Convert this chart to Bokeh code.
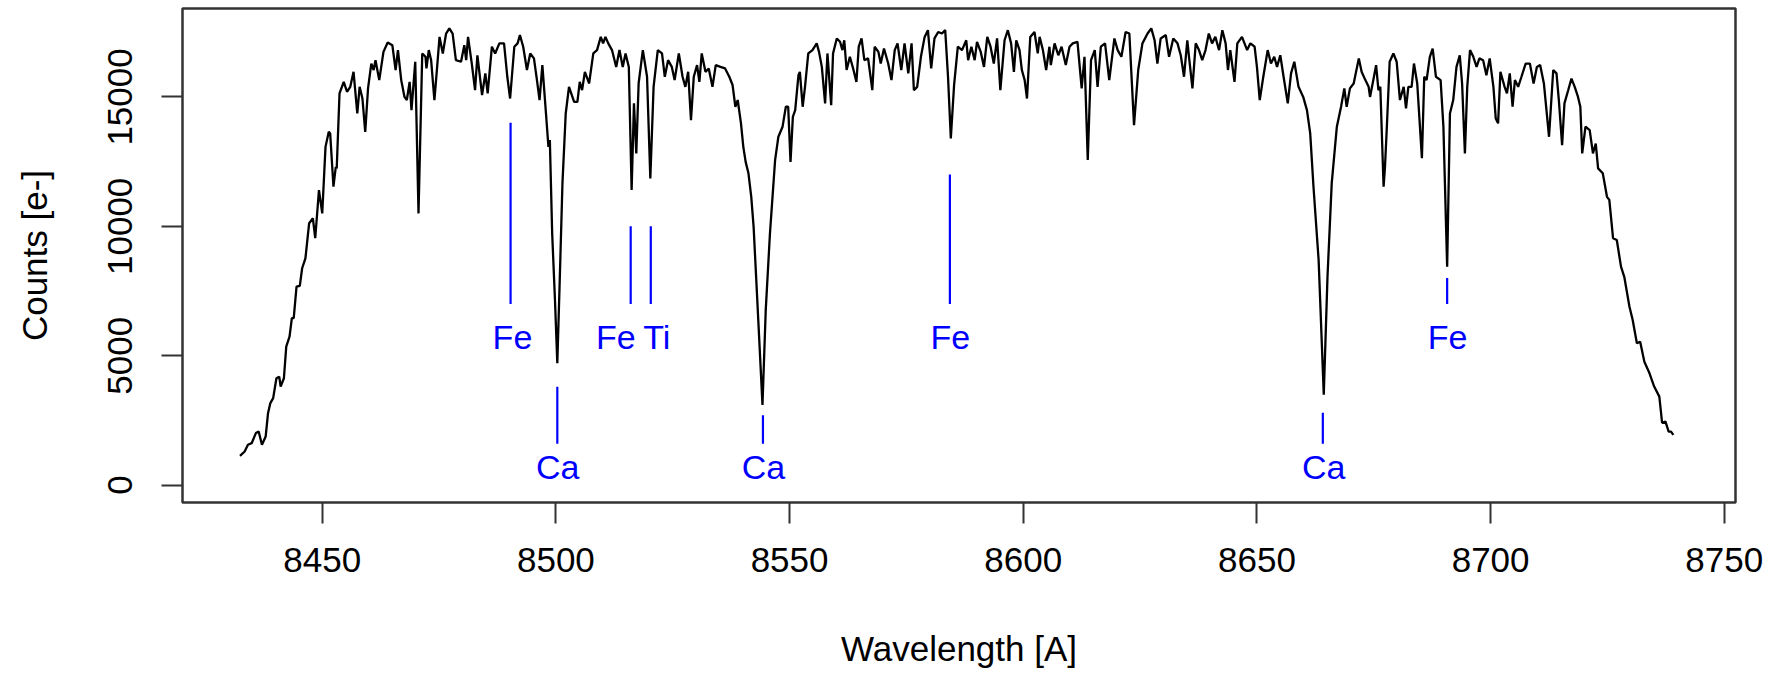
from bokeh.plotting import figure
from bokeh.models import FixedTicker, Range1d
from bokeh.core.properties import value
from bokeh.embed import file_html
from bokeh.resources import INLINE

# ---- spectrum ----
wavelength = [
    8432.4, 8433.4, 8434.1, 8434.9, 8435.8, 8436.4, 8437.1, 8437.9, 8438.4, 8438.9,
    8439.5, 8440.2, 8440.8, 8441.1, 8441.8, 8442.3, 8443.0, 8443.5, 8443.9, 8444.5,
    8445.2, 8445.7, 8446.4, 8447.2, 8448.0, 8448.5, 8449.3, 8450.0, 8450.7, 8451.4,
    8451.7, 8452.4, 8452.9, 8453.1, 8453.7, 8454.6, 8455.3, 8456.0, 8456.7, 8457.5,
    8458.0, 8458.6, 8459.2, 8459.8, 8460.5, 8461.0, 8461.4, 8462.2, 8463.1, 8464.0,
    8465.0, 8465.7, 8466.2, 8466.9, 8467.6, 8468.1, 8468.7, 8469.1, 8469.9, 8470.6,
    8471.4, 8472.1, 8472.3, 8472.8, 8473.3, 8474.0, 8474.5, 8475.1, 8475.8, 8476.5,
    8477.2, 8477.9, 8478.6, 8479.7, 8480.4, 8480.8, 8481.2, 8482.0, 8482.7, 8483.2,
    8484.2, 8484.9, 8485.4, 8486.3, 8487.0, 8487.9, 8488.9, 8489.6, 8490.2, 8491.1,
    8491.8, 8492.3, 8493.0, 8493.8, 8494.5, 8495.3, 8495.9, 8496.5, 8497.1, 8497.9,
    8498.4, 8498.7, 8499.2, 8499.8, 8500.3, 8500.8, 8501.4, 8502.1, 8502.8, 8503.9,
    8504.6, 8505.1, 8505.6, 8506.2, 8507.1, 8508.0, 8508.8, 8509.6, 8510.1, 8510.6,
    8511.2, 8512.0, 8512.9, 8513.6, 8514.3, 8514.9, 8515.6, 8516.2, 8516.7, 8517.2,
    8517.7, 8518.6, 8519.5, 8520.2, 8520.9, 8521.8, 8522.7, 8523.3, 8524.0, 8524.8,
    8525.4, 8526.3, 8527.1, 8527.7, 8528.3, 8528.9, 8529.5, 8530.2, 8530.7, 8531.2,
    8532.0, 8532.7, 8533.5, 8534.2, 8535.2, 8536.2, 8537.1, 8537.8, 8538.4, 8538.9,
    8539.6, 8540.1, 8540.6, 8541.2, 8541.8, 8542.3, 8542.8, 8543.3,
    8544.2, 8544.9, 8545.8, 8546.9, 8547.6, 8548.5, 8549.2, 8549.7, 8550.2, 8550.7,
    8551.2, 8551.9, 8552.2, 8552.8, 8553.3, 8554.0, 8554.9, 8555.8, 8556.3, 8556.9,
    8557.6, 8558.1, 8558.9, 8559.3, 8560.1, 8560.8, 8561.3, 8561.7, 8562.2, 8562.9,
    8563.6, 8564.3, 8564.8, 8565.4, 8566.0, 8566.8, 8567.7, 8568.2, 8569.0, 8569.5,
    8570.2, 8571.1, 8571.8, 8572.5, 8573.1, 8573.9, 8574.6, 8575.4, 8576.1, 8576.6,
    8577.3, 8578.1, 8578.9, 8579.6, 8580.3, 8581.0, 8581.8, 8582.6, 8583.3, 8583.9,
    8584.5, 8585.2, 8586.0, 8586.9, 8587.8, 8588.2, 8588.9, 8589.6, 8590.1, 8590.9,
    8591.6, 8592.3, 8593.0, 8593.7, 8594.4, 8595.1, 8596.0, 8596.7, 8597.4, 8598.0,
    8598.5, 8599.2, 8599.7, 8600.3, 8600.8, 8601.5, 8602.4,
    8603.1, 8603.5, 8604.2, 8604.9, 8605.6, 8605.9, 8606.7, 8607.5, 8608.2, 8609.1,
    8609.9, 8610.6, 8611.6, 8612.5, 8613.1, 8613.8, 8614.5, 8615.3, 8615.9, 8616.6,
    8617.5, 8618.4, 8619.5, 8620.2, 8621.0, 8621.9, 8622.7, 8623.7, 8624.6, 8625.5,
    8626.6, 8627.4, 8628.1, 8628.7, 8629.4, 8630.5, 8631.2, 8632.1, 8633.0, 8633.7,
    8634.4, 8635.1, 8635.5, 8636.2, 8636.9, 8637.6, 8638.3, 8639.0, 8639.7, 8640.4,
    8641.1, 8641.9, 8642.6, 8643.3, 8643.8, 8644.3, 8645.2, 8645.8, 8646.8, 8647.9,
    8648.6, 8649.5, 8650.0, 8650.6, 8651.3, 8652.3, 8653.0, 8653.7, 8654.3, 8655.0,
    8655.7, 8656.6, 8657.3, 8658.0, 8658.9, 8659.9, 8660.7, 8661.4, 8662.1,
    8663.2, 8664.3, 8665.1, 8666.0, 8667.1, 8668.0, 8668.7, 8669.2, 8669.9, 8670.7,
    8671.8, 8672.4, 8673.2, 8673.9, 8674.2, 8674.9, 8675.5, 8676.0, 8676.4, 8677.1,
    8677.4, 8677.8, 8678.4, 8679.2, 8679.9, 8680.6, 8681.4, 8681.9, 8682.4, 8683.1,
    8683.6, 8684.3, 8685.3, 8685.8, 8686.3, 8687.0, 8687.6, 8688.3, 8689.3, 8689.9,
    8690.7, 8691.3, 8692.0, 8692.7, 8693.4, 8693.9, 8694.5, 8695.0, 8695.6, 8696.3,
    8697.0, 8697.6, 8698.4, 8699.1, 8699.8, 8700.6, 8701.1, 8701.6, 8702.1, 8703.0,
    8703.5, 8704.1, 8704.7, 8705.2, 8705.9, 8706.6, 8707.5, 8708.4, 8709.2, 8709.9,
    8710.6, 8711.4, 8712.5, 8713.4, 8714.1, 8714.6, 8715.3, 8715.8, 8716.6, 8717.3,
    8718.0, 8718.7, 8719.2, 8719.6, 8720.3, 8721.2, 8721.9, 8722.5,
    8723.0, 8724.0, 8724.9, 8725.4, 8726.2, 8727.0, 8727.9, 8728.6, 8729.7, 8730.4,
    8731.3, 8732.0, 8732.9, 8734.0, 8735.0, 8736.1, 8736.7, 8737.4, 8738.1, 8738.6,
    8739.1,
]

counts = [
    1130, 1300, 1560, 1620, 2010, 2070, 1560, 1880, 2780, 3170,
    3360, 4130, 4190, 3810, 4130, 5350, 5740, 6450, 6450, 7670,
    7700, 8380, 8760, 10120, 10310, 9540, 11400, 10500, 13070, 13650,
    13590, 11530, 12300, 12240, 15140, 15580, 15200, 15390, 15970, 14360,
    15390, 14940, 13650, 15330, 16290, 16040, 16420, 15650, 16740, 17100,
    17000, 16040, 16810, 15650, 15000, 14880, 15580, 14490, 16360, 10500,
    16680, 16550, 16100, 16810, 16420, 14880, 15970, 17320, 16680, 17450,
    17650, 17450, 16420, 16360, 17000, 16420, 17320, 16290, 15260, 16610,
    15070, 15910, 15140, 16940, 16680, 17070, 17070, 15780, 14940, 16940,
    17070, 17390, 16940, 16040, 16680, 16490, 15710, 14880, 16230, 14300,
    13070, 13330, 9730, 7150, 4710, 7800, 11660, 14360, 15390, 14810,
    14810, 15580, 15260, 15970, 15520, 16680, 16810, 17320, 17070, 17320,
    17070, 16810, 16160, 16810, 16160, 16680, 16160, 11400, 14750, 12820,
    15520, 16810, 15780, 11850, 15390, 16810, 16680, 15780, 16420, 16160,
    15650, 16680, 15780, 15390, 15970, 14100, 15780, 16230, 15580, 16680,
    15970, 16100, 15390, 16230, 16160, 16100, 15780, 15460, 14620, 14880,
    13980, 13070, 12490, 12050, 11140, 9990, 8190, 6380,
    3100, 6770, 9730, 12560, 13460, 13850, 14620, 14620, 12490, 14230,
    14490, 15840, 15970, 14620, 15390, 16680, 16810, 17070, 16740, 16160,
    14750, 16680, 14680, 16680, 17260, 17130, 16810, 17190, 16040, 16550,
    16100, 15580, 16940, 17260, 16420, 16490, 15260, 16940, 16740, 16290,
    16870, 16290, 15650, 16810, 17070, 16040, 17070, 15910, 17070, 15260,
    15390, 16550, 17320, 17580, 16100, 17260, 17510, 17450, 17580, 15780,
    13400, 15460, 16940, 16810, 17190, 16420, 16940, 16420, 17130, 16740,
    16160, 17320, 16940, 16290, 17260, 15260, 17190, 17580, 17070, 15970,
    17190, 16810, 16040, 15650, 14940, 17320, 17510,
    16680, 17320, 16810, 16040, 16940, 16230, 17070, 16610, 16940, 16230,
    16940, 17070, 17130, 15330, 16550, 12560, 16420, 16810, 15390, 16940,
    17070, 15650, 17260, 16810, 16550, 17510, 17450, 13910, 16040, 17070,
    17450, 17650, 17190, 16290, 17260, 17390, 16550, 17260, 17070, 16610,
    15780, 17190, 16490, 15330, 17070, 16810, 16420, 16810, 17450, 17070,
    17320, 16810, 17580, 17070, 16040, 16810, 15580, 17070, 17320, 16810,
    17070, 16940, 16160, 14880, 15710, 16810, 16290, 16550, 16160, 16610,
    15780, 14750, 15910, 16360, 15390, 15000, 14490, 13590, 11530,
    8700, 3490, 8060, 11660, 13850, 14620, 15330, 14620, 15330, 15520,
    16490, 15970, 15650, 15390, 15000, 15650, 16230, 15260, 15390, 11530,
    12300, 13850, 16360, 16680, 16360, 14880, 15390, 14560, 15390, 15390,
    16290, 15520, 12630, 15780, 15650, 16550, 16870, 15780, 15650, 13850,
    8440, 14360, 14880, 16160, 16610, 15520, 12820, 15390, 16810, 16550,
    16160, 16490, 16420, 15840, 16490, 15390, 14170, 13980, 15970, 15390,
    15140, 15910, 14620, 15650, 15390, 15780, 16290, 16290, 15520, 16160,
    16230, 15520, 13460, 16040, 15910, 14880, 13140, 14750, 15260, 15710,
    15390, 15000, 14620, 12820, 13850, 13720, 12820, 13200,
    12240, 12050, 11140, 11020, 9540, 9470, 8440, 8050, 6900, 6380,
    5480, 5540, 4770, 4320, 3810, 3420, 2400, 2460, 2070, 2070,
    1940,
]

# ---- line identifications ----
fe_lines = [8490.3, 8516.0, 8584.3, 8690.7]
fe_tops = [14000, 10000, 12000, 8000]
fe_bottoms = [7000, 7000, 7000, 7000]
ti_lines = [8520.3]
ti_tops = [10000]
ti_bottoms = [7000]
ca_lines = [8500.3, 8544.3, 8664.1]
ca_tops = [3800, 2700, 2800]
ca_bottoms = [1600, 1600, 1600]

upper_labels = ["Fe", "Fe", "Ti", "Fe", "Fe"]
upper_label_x = [8490.7, 8512.8, 8521.6, 8584.4, 8690.8]
upper_label_y = [5720, 5720, 5720, 5720, 5720]
lower_labels = ["Ca", "Ca", "Ca"]
lower_label_x = [8500.4, 8544.4, 8664.3]
lower_label_y = [700, 700, 700]

x_ticks = [8450, 8500, 8550, 8600, 8650, 8700, 8750]
y_ticks = [0, 5000, 10000, 15000]

FONT = "Liberation Sans"

p = figure(
    frame_width=1553, frame_height=494,
    x_range=Range1d(8420.1, 8752.4), y_range=Range1d(-672, 18417),
    output_backend="svg", toolbar_location=None,
    min_border_left=182, min_border_right=35, min_border_top=8, min_border_bottom=168,
)
p.grid.visible = False
p.background_fill_color = "white"
p.border_fill_color = "white"
p.outline_line_color = "#333333"
p.outline_line_width = 2.5

for ax, ticks in ((p.xaxis[0], x_ticks), (p.yaxis[0], y_ticks)):
    ax.ticker = FixedTicker(ticks=ticks, minor_ticks=[])
    ax.axis_line_color = None
    ax.major_tick_out = 21
    ax.major_tick_in = 0
    ax.major_tick_line_width = 2
    ax.major_tick_line_color = "#333333"
    ax.minor_tick_line_color = None
    ax.major_label_text_font = FONT
    ax.major_label_text_font_size = "35px"
    ax.major_label_text_color = "black"
    ax.axis_label_text_font = FONT
    ax.axis_label_text_font_size = "35px"
    ax.axis_label_text_font_style = "normal"
    ax.axis_label_text_color = "black"

p.xaxis[0].axis_label = "Wavelength [A]"
p.xaxis[0].major_label_standoff = 24
p.xaxis[0].axis_label_standoff = 54
p.yaxis[0].axis_label = "Counts [e-]"
p.yaxis[0].major_label_orientation = "vertical"
p.yaxis[0].major_label_standoff = 29
p.yaxis[0].axis_label_standoff = 52

p.line(wavelength, counts, line_color="black", line_width=2.3)

p.segment(x0=fe_lines, y0=fe_bottoms, x1=fe_lines, y1=fe_tops, line_color="#0000FF", line_width=2.2)
p.segment(x0=ti_lines, y0=ti_bottoms, x1=ti_lines, y1=ti_tops, line_color="#0000FF", line_width=2.2)
p.segment(x0=ca_lines, y0=ca_bottoms, x1=ca_lines, y1=ca_tops, line_color="#0000FF", line_width=2.2)

p.text(x=upper_label_x, y=upper_label_y, text=upper_labels, text_color="#0000FF",
       text_font=value(FONT), text_font_size="34px", text_align="center", text_baseline="alphabetic")
p.text(x=lower_label_x, y=lower_label_y, text=lower_labels, text_color="#0000FF",
       text_font=value(FONT), text_font_size="34px", text_align="center", text_baseline="alphabetic")

open("out.html", "w").write(file_html(p, INLINE))
